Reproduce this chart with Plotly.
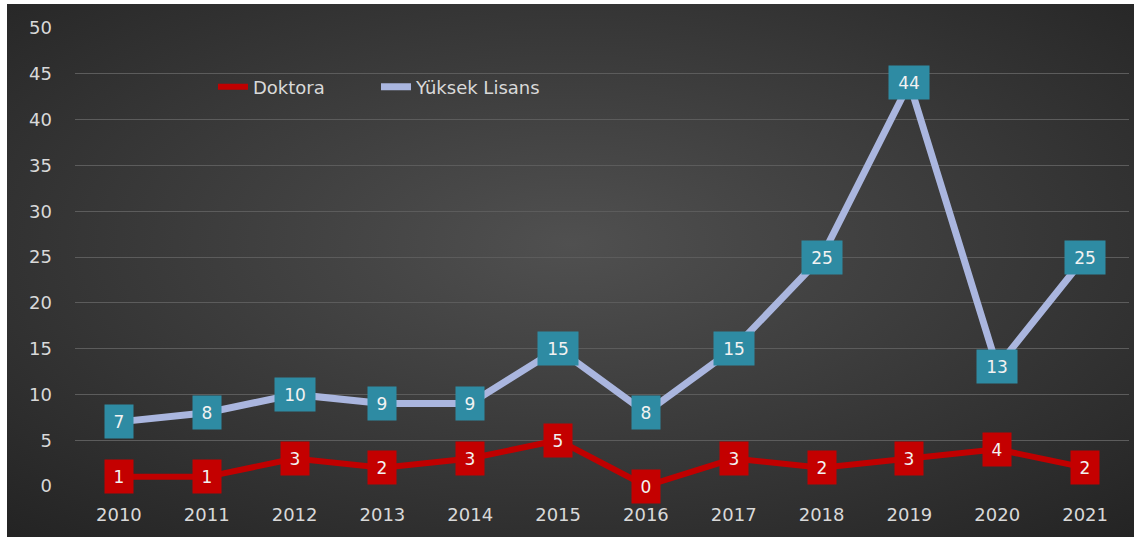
import base64
import plotly.graph_objects as go

years = ["2010", "2011", "2012", "2013", "2014", "2015", "2016", "2017", "2018", "2019", "2020", "2021"]
doktora = [1, 1, 3, 2, 3, 5, 0, 3, 2, 3, 4, 2]
yuksek_lisans = [7, 8, 10, 9, 9, 15, 8, 15, 25, 44, 13, 25]
y_ticks = [0, 5, 10, 15, 20, 25, 30, 35, 40, 45, 50]

W, H = 1134, 537
L, R, T, B = 75, 5, 28, 51
pw, ph = W - L - R, H - T - B

svg = ("<svg xmlns='http://www.w3.org/2000/svg' width='1127' height='533'>"
       "<defs><radialGradient id='g' cx='50%' cy='45%' r='75%'>"
       "<stop offset='0' stop-color='#505050'/><stop offset='1' stop-color='#232323'/>"
       "</radialGradient></defs><rect width='1127' height='533' fill='url(#g)'/></svg>")
src = "data:image/svg+xml;base64," + base64.b64encode(svg.encode()).decode()

font = "DejaVu Sans, sans-serif"
fig = go.Figure()
fig.add_trace(go.Scatter(x=years, y=doktora, name="Doktora", mode="lines",
                         line=dict(color="#c00000", width=6), cliponaxis=False,
                         legend="legend"))
fig.add_trace(go.Scatter(x=years, y=yuksek_lisans, name="Yüksek Lisans", mode="lines",
                         line=dict(color="#aab6df", width=7), cliponaxis=False,
                         legend="legend2"))

for series, bg in ((doktora, "#c40000"), (yuksek_lisans, "#2e8ba3")):
    for i, v in enumerate(series):
        fig.add_annotation(x=i, y=v, xref="x", yref="y", text=str(v), showarrow=False,
                           bgcolor=bg, borderpad=6, width=12 * len(str(v)) + 4, height=21,
                           font=dict(family=font, size=17, color="#f2f2f2"),
                           xanchor="center", yanchor="middle")

legend_common = dict(orientation="h", xanchor="left", yanchor="middle",
                     bgcolor="rgba(0,0,0,0)",
                     font=dict(family=font, size=18, color="#d9d9d9"))
fig.update_layout(
    width=W, height=H,
    margin=dict(l=L, r=R, t=T, b=B),
    paper_bgcolor="white", plot_bgcolor="rgba(0,0,0,0)",
    images=[dict(source=src, xref="paper", yref="paper",
                 x=(7 - L) / pw, y=1 + (T - 4) / ph,
                 sizex=(W - 7) / pw, sizey=(H - 4) / ph,
                 xanchor="left", yanchor="top", sizing="stretch", layer="below")],
    showlegend=True,
    legend=dict(x=(213 - L) / pw, y=(486 - 87) / ph, **legend_common),
    legend2=dict(x=(376 - L) / pw, y=(486 - 87) / ph, **legend_common),
    xaxis=dict(type="category", range=[-0.5, 11.5], showgrid=False, zeroline=False,
               showline=False, ticks="", ticklabelstandoff=16,
               tickfont=dict(family=font, size=18, color="#d9d9d9")),
    yaxis=dict(range=[0, 50], tickvals=y_ticks, showgrid=True, gridcolor="#5c5c5c",
               gridwidth=1, zeroline=False, showline=False, ticks="",
               ticklabelstandoff=22,
               tickfont=dict(family=font, size=18, color="#d9d9d9")),
)
fig.write_html("out.html", config={"displayModeBar": False},
               post_script="document.body.style.margin='0px';")
